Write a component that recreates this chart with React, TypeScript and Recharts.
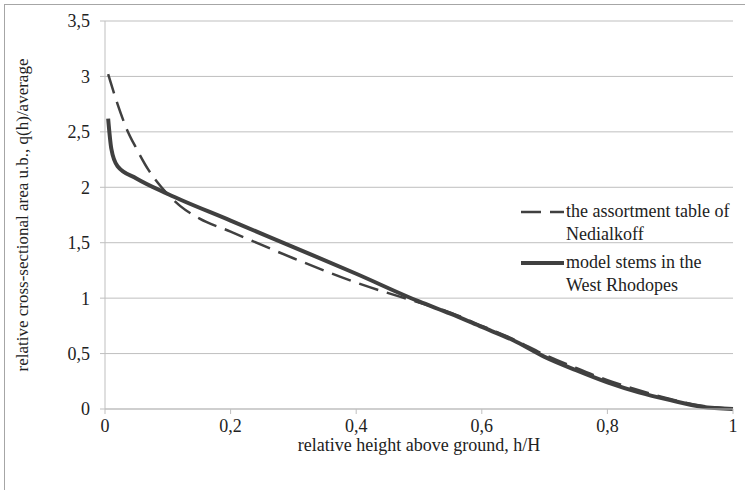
// @ts-nocheck
import { LineChart, Line, XAxis, YAxis, CartesianGrid, Label } from 'recharts';

const heightsNedialkoff = [0.005, 0.02, 0.035, 0.05, 0.07, 0.09, 0.12, 0.15, 0.2, 0.3, 0.4, 0.5, 0.55, 0.6, 0.65, 0.7, 0.75, 0.8, 0.85, 0.9, 0.95, 1.0];
const areaNedialkoff = [3.02, 2.75, 2.52, 2.35, 2.15, 2.0, 1.83, 1.72, 1.6, 1.36, 1.14, 0.96, 0.87, 0.75, 0.63, 0.49, 0.37, 0.26, 0.17, 0.09, 0.03, 0.0];

const heightsModel = [0.005, 0.01, 0.02, 0.05, 0.1, 0.2, 0.3, 0.4, 0.5, 0.55, 0.6, 0.65, 0.7, 0.75, 0.8, 0.85, 0.9, 0.95, 1.0];
const areaModel = [2.62, 2.35, 2.19, 2.08, 1.94, 1.7, 1.46, 1.22, 0.97, 0.86, 0.74, 0.62, 0.47, 0.35, 0.24, 0.15, 0.08, 0.02, 0.0];

const xTicks = [0, 0.2, 0.4, 0.6, 0.8, 1];
const yTicks = [0, 0.5, 1, 1.5, 2, 2.5, 3, 3.5];

const legendItems = [
  { lines: ['the assortment table of', 'Nedialkoff'], dash: '20 9', width: 2.5 },
  { lines: ['model stems in the', 'West Rhodopes'], dash: undefined, width: 4 },
];

const nedialkoff = heightsNedialkoff.map((h, i) => ({ h, q: areaNedialkoff[i] }));
const model = heightsModel.map((h, i) => ({ h, q: areaModel[i] }));

const FONT = "'Times New Roman', 'Liberation Serif', 'DejaVu Serif', serif";
const GRID = '#bfbfbf';
const INK = '#404040';
const TXT = '#222';
const fmt = (v: number) => String(v).replace('.', ',');

function LegendBox() {
  return (
    <div style={{ position: 'absolute', left: 519, top: 200, width: 225, fontFamily: FONT, fontSize: 18, color: TXT, lineHeight: '23px' }}>
      {legendItems.map((it, i) => (
        <div key={i} style={{ display: 'flex', alignItems: 'flex-start', marginBottom: 5 }}>
          <svg width={47} height={23} style={{ flex: 'none' }}>
            <line x1={2} y1={12} x2={45} y2={12} stroke={INK} strokeWidth={it.width} strokeDasharray={it.dash} />
          </svg>
          <div>
            {it.lines.map((l, j) => <div key={j}>{l}</div>)}
          </div>
        </div>
      ))}
    </div>
  );
}

export default function App() {
  return (
    <div style={{ position: 'absolute', left: 0, top: 0, width: 745, height: 490, overflow: 'hidden', background: '#fff' }}>
      <div style={{ position: 'absolute', left: 4, top: 4, width: 760, height: 520, border: '1px solid #a6a6a6' }} />
      <div style={{ position: 'absolute', left: 0, top: 0 }}>
        <LineChart width={745} height={490} margin={{ top: 21, right: 12, bottom: 31, left: 5 }}>
          <CartesianGrid horizontal vertical={false} stroke={GRID} />
          <XAxis
            type="number"
            dataKey="h"
            domain={[0, 1]}
            ticks={xTicks}
            tickFormatter={fmt}
            height={50}
            stroke={GRID}
            tickSize={5}
            tickMargin={5}
            tick={{ fill: TXT, fontFamily: FONT, fontSize: 18 }}
            allowDuplicatedCategory={false}
          >
            <Label
              content={({ viewBox }) => (
                <text x={viewBox.x + viewBox.width / 2} y={viewBox.y + 36} textAnchor="middle" dominantBaseline="central" fontFamily={FONT} fontSize={18} fill={TXT}>
                  relative height above ground, h/H
                </text>
              )}
            />
          </XAxis>
          <YAxis
            type="number"
            domain={[0, 3.5]}
            ticks={yTicks}
            tickFormatter={fmt}
            width={100}
            stroke={GRID}
            tickSize={5}
            tickMargin={10}
            tick={{ fill: TXT, fontFamily: FONT, fontSize: 18 }}
          >
            <Label
              content={({ viewBox }) => {
                const cx = 22;
                const cy = viewBox.y + viewBox.height / 2;
                return (
                  <text x={cx} y={cy} transform={`rotate(-90 ${cx} ${cy})`} textAnchor="middle" dominantBaseline="central" fontFamily={FONT} fontSize={17} fill={TXT}>
                    relative cross-sectional area u.b., q(h)/average
                  </text>
                );
              }}
            />
          </YAxis>
          <Line data={nedialkoff} dataKey="q" type="monotone" stroke={INK} strokeWidth={2.5} strokeDasharray="20 9" dot={false} isAnimationActive={false} name="nedialkoff" />
          <Line data={model} dataKey="q" type="monotone" stroke={INK} strokeWidth={4} dot={false} isAnimationActive={false} name="model" />
        </LineChart>
      </div>
      <LegendBox />
    </div>
  );
}
